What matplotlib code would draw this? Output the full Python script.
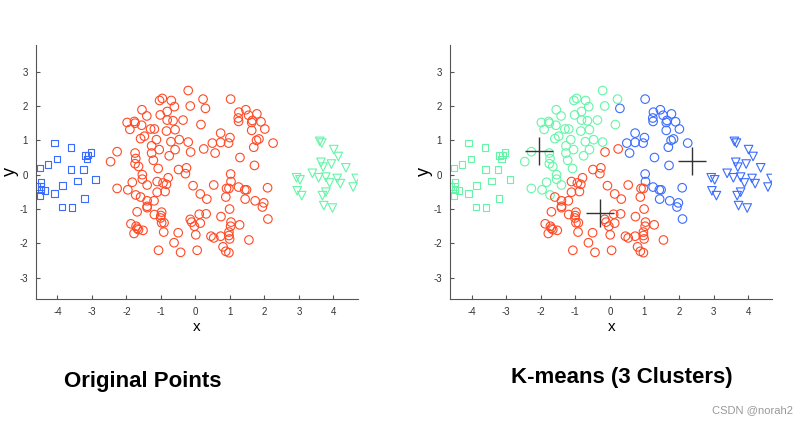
import numpy as np
import matplotlib
matplotlib.use("Agg")
import matplotlib.pyplot as plt

plt.rcParams["font.family"] = ["Liberation Sans", "DejaVu Sans"]
plt.rcParams["axes.unicode_minus"] = False

# blue squares (left cluster)
sq_x = [-4.08, -3.61, -4.01, -4.28, -4.50, -3.19, -3.11, -3.03, -3.14, -3.60, -3.24, -3.42,
        -2.89, -3.86, -4.60, -4.48, -4.48, -4.48, -4.36, -4.50, -4.08, -3.21, -3.87, -3.58]
sq_y = [0.92, 0.79, 0.45, 0.30, 0.20, 0.56, 0.58, 0.65, 0.45, 0.15, 0.15, -0.18,
        -0.14, -0.31, -0.34, -0.22, -0.34, -0.44, -0.46, -0.61, -0.54, -0.69, -0.94, -0.95]

# green triangles (right cluster)
tr_x = [3.60, 3.66, 4.01, 4.14, 3.64, 3.70, 3.94, 4.36, 3.39, 3.57, 3.78, 4.11,
        4.66, 2.93, 3.03, 3.89, 4.20, 4.57, 2.95, 3.08, 3.78, 3.68, 3.72, 3.97]
tr_y = [0.97, 0.92, 0.73, 0.53, 0.36, 0.22, 0.31, 0.20, 0.04, -0.09, -0.07, -0.11,
        -0.11, -0.09, -0.15, -0.24, -0.26, -0.36, -0.47, -0.61, -0.51, -0.61, -0.90, -0.97]

# red circles (central ring)
ci_x = [-0.21, -0.96, -1.04, -0.70, 0.22, 1.02, -0.15, -0.61, 0.29, -1.55, -0.82, -1.02,
        -1.41, 1.26, 1.46, 1.54, 1.78, 1.24, 1.25, -0.82, -0.65, -0.36, -1.98, -1.77,
        -1.75, -1.56, 0.16, 1.65, 1.90, 1.63, -1.90, -1.30, -1.19, -0.84, -0.59, 1.63,
        2.01, -1.48, -1.59, -1.13, -0.47, 0.73, 1.00, 1.77, 1.84, -1.27, -0.71, -0.21,
        0.49, 0.73, 0.96, 2.25, -1.05, -0.59, 0.24, 1.69, -2.27, -1.75, -1.27, -0.14,
        -0.76, 0.57, 1.29, -1.73, -1.22, -2.46, -1.75, -1.65, -1.08, -0.49, -0.26, -0.29,
        1.71, -1.54, -1.54, 1.02, -0.79, -1.11, -1.83, -0.94, -0.84, -1.40, -0.07, 0.53,
        1.03, 0.90, 0.97, 1.25, 1.43, 1.48, 2.09, -2.27, -1.96, -1.11, -0.88, 0.14,
        -1.73, -1.59, 0.33, 0.88, 1.44, 1.73, -1.40, -1.20, 1.98, -1.40, -1.40, 1.94,
        0.99, -1.69, -0.98, -1.19, -1.00, -1.01, 0.31, 0.11, 0.74, 2.10, -0.15, -0.11,
        0.14, -1.87, -0.98, -0.91, 1.03, 1.28, -1.72, -0.03, 1.02, -1.69, -1.65, -1.52,
        -1.78, -0.92, -0.50, 0.97, 0.01, 0.45, 0.53, 0.73, 0.97, 0.99, 1.55, -0.62,
        0.80, -1.07, -0.43, 0.05, 0.88, 0.97]
ci_y = [2.45, 2.22, 2.16, 2.16, 2.20, 2.20, 2.00, 1.98, 1.93, 1.89, 1.84, 1.74,
        1.71, 1.82, 1.89, 1.73, 1.77, 1.65, 1.55, 1.59, 1.57, 1.59, 1.52, 1.55,
        1.50, 1.44, 1.46, 1.58, 1.54, 1.52, 1.32, 1.33, 1.33, 1.27, 1.31, 1.29,
        1.33, 1.12, 1.05, 1.02, 1.02, 1.21, 1.08, 1.00, 1.04, 0.84, 0.96, 0.95,
        0.92, 0.94, 0.92, 0.92, 0.73, 0.73, 0.75, 0.80, 0.67, 0.63, 0.63, 0.66,
        0.55, 0.63, 0.50, 0.47, 0.42, 0.38, 0.32, 0.24, 0.18, 0.15, 0.20, 0.03,
        0.27, 0.00, -0.13, 0.02, -0.09, -0.20, -0.22, -0.24, -0.28, -0.30, -0.32, -0.30,
        -0.20, -0.40, -0.40, -0.36, -0.44, -0.44, -0.38, -0.40, -0.44, -0.51, -0.49, -0.56,
        -0.59, -0.65, -0.71, -0.65, -0.71, -0.76, -0.76, -0.76, -0.82, -0.92, -0.96, -0.94,
        -1.00, -1.08, -1.09, -1.16, -1.19, -1.26, -1.14, -1.15, -1.22, -1.29, -1.30, -1.38,
        -1.41, -1.43, -1.40, -1.40, -1.38, -1.46, -1.50, -1.50, -1.50, -1.56, -1.60, -1.62,
        -1.71, -1.67, -1.69, -1.67, -1.75, -1.79, -1.84, -1.79, -1.77, -1.87, -1.90, -1.98,
        -2.10, -2.20, -2.26, -2.20, -2.23, -2.27]

# k-means centroids
cen_x = [-2.06, -0.28, 2.38]
cen_y = [0.69, -1.12, 0.41]

RED = "#ff4a26"
BLUE = "#3a6cff"
GREEN = "#66f5a8"
cluster_colors = [GREEN, RED, BLUE]


def nearest(xs, ys):
    xs, ys = np.asarray(xs), np.asarray(ys)
    d = (xs[:, None] - np.array(cen_x)) ** 2 + (ys[:, None] - np.array(cen_y)) ** 2
    return d.argmin(axis=1)


fig = plt.figure(figsize=(8.08, 4.23), dpi=100)
ax1 = fig.add_axes([0.0446, 0.293, 0.398, 0.601])
ax2 = fig.add_axes([0.557, 0.293, 0.399, 0.601])

mk = dict(facecolors="none", linewidths=0.8)

# original points
ax1.scatter(sq_x, sq_y, marker="s", s=22, edgecolors=BLUE, **mk)
ax1.scatter(ci_x, ci_y, marker="o", s=38, edgecolors=RED, **mk)
ax1.scatter(tr_x, tr_y, marker="v", s=38, edgecolors=GREEN, **mk)

# k-means result
for xs, ys, m, s in [(sq_x, sq_y, "s", 22), (ci_x, ci_y, "o", 38), (tr_x, tr_y, "v", 38)]:
    lab = nearest(xs, ys)
    cols = [cluster_colors[k] for k in lab]
    ax2.scatter(xs, ys, marker=m, s=s, edgecolors=cols, **mk)
ax2.plot(cen_x, cen_y, "+", color="#333333", markersize=20, markeredgewidth=1.0)

for ax in (ax1, ax2):
    ax.set_xlim(-4.62, 4.7)
    ax.set_ylim(-3.62, 3.78)
    ax.set_xticks(range(-4, 5))
    ax.set_yticks(range(-3, 4))
    ax.spines["top"].set_visible(False)
    ax.spines["right"].set_visible(False)
    for sp in ("left", "bottom"):
        ax.spines[sp].set_color("#555555")
        ax.spines[sp].set_linewidth(0.8)
    ax.tick_params(direction="in", length=3, width=0.8, color="#555555",
                   labelsize=7, labelcolor="#333333", pad=6)
    ax.set_xlabel("x", fontsize=11, labelpad=2)
    ax.set_ylabel("y", fontsize=13)
    ax.yaxis.set_label_coords(-0.052, 0.5)

fig.text(0.177, 0.099, "Original Points", ha="center", va="center",
         fontsize=16, fontweight="bold")
fig.text(0.769, 0.108, "K-means (3 Clusters)", ha="center", va="center",
         fontsize=16, fontweight="bold")
fig.text(0.981, 0.031, "CSDN @norah2", ha="right", va="center",
         fontsize=8, color="#999999")

fig.savefig("out.png", dpi=100)
